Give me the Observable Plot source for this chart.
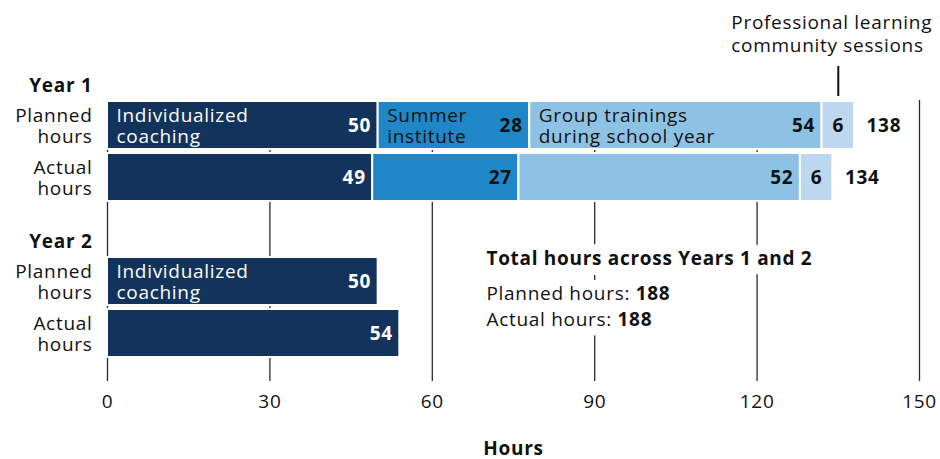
<!DOCTYPE html>
<html><head><meta charset="utf-8">
<script src="https://cdn.jsdelivr.net/npm/d3@7"></script>
<script src="https://cdn.jsdelivr.net/npm/@observablehq/plot@0.6"></script>
<style>body{margin:0;background:#fff;} svg{display:block;}</style>
</head><body><div id="chart"></div>
<script>
const categories = ["Individualized coaching", "Summer institute", "Group trainings during school year", "Professional learning community sessions"];
const categoryLabels = ["Individualized\ncoaching", "Summer\ninstitute", "Group trainings\nduring school year", "Professional learning\ncommunity sessions"];
const colors = ["#12335B", "#1F86C7", "#8DC2E4", "#BCD7EE"];
const rows = ["Y1H", "Y1P", "Y1A", "Y2H", "Y2P", "Y2A"];
const rowLabels = ["Planned\nhours", "Actual\nhours", "Planned\nhours", "Actual\nhours"];
const rowKeys = ["Y1P", "Y1A", "Y2P", "Y2A"];
const yearHeaders = ["Year 1", "Year 2"];
const yearHeaderRows = ["Y1H", "Y2H"];
const year1Planned = [50, 28, 54, 6];
const year1Actual = [49, 27, 52, 6];
const year2Planned = [50];
const year2Actual = [54];
const year1Totals = [138, 134];
const combinedTitle = "Total hours across Years 1 and 2";
const combinedLabels = ["Planned hours:", "Actual hours:"];
const combinedTotals = [188, 188];
const xTicks = [0, 30, 60, 90, 120, 150];

const series = [
  {row: "Y1P", values: year1Planned, labelled: true},
  {row: "Y1A", values: year1Actual, labelled: false},
  {row: "Y2P", values: year2Planned, labelled: true},
  {row: "Y2A", values: year2Actual, labelled: false}
];
const segs = [];
for (const s of series) {
  let acc = 0;
  s.values.forEach((v, i) => {
    segs.push({row: s.row, cat: categories[i], i, value: v, x1: acc, x2: acc + v, labelled: s.labelled});
    acc += v;
  });
}
const totalRows = year1Totals.map((t, k) => ({row: ["Y1P", "Y1A"][k], total: t}));
const plcSeg = segs.filter(d => d.row === "Y1P" && d.i === 3);
const dark = "#111";

// combined-totals block: title + two lines
const block = [
  {text: combinedTitle, row: "Y2P", dy: -22.5, bold: true},
  {text: `${combinedLabels[0]} ${combinedTotals[0]}`, row: "Y2P", dy: 12.5, bold: false},
  {text: `${combinedLabels[1]} ${combinedTotals[1]}`, row: "Y2A", dy: -13.5, bold: false}
];
const blockMarks = (halo) => block.map(b => Plot.text([b], {
  x: () => 70, y: () => b.row, text: d => d.text, textAnchor: "start", dy: b.dy,
  fontWeight: b.bold ? "bold" : "normal", fontSize: 19,
  fill: halo ? "white" : dark,
  ...(halo ? {stroke: "white", strokeWidth: 20, strokeLinejoin: "round"} : {})
}));

const chart = Plot.plot({
  width: 940, height: 459,
  marginTop: 100, marginBottom: 78, marginLeft: 107, marginRight: 21,
  style: {fontFamily: "'Open Sans', sans-serif", fontSize: "19px", color: dark, background: "white", letterSpacing: "0.7px"},
  x: {domain: [0, 150]},
  y: {domain: rows, range: [47.5, 358], paddingInner: 0.0857, paddingOuter: 0, axis: null},
  marks: [
    Plot.ruleX(xTicks, {stroke: "#2a2a2a", strokeWidth: 1.3}),
    ...blockMarks(true),
    Plot.axisX(xTicks, {tickSize: 0, tickPadding: 13, fontSize: 19, label: "Hours", labelAnchor: "center", labelArrow: "none", labelOffset: 73, fill: dark}),
    Plot.barX(segs, {x1: "x1", x2: "x2", y: "row", fill: d => colors[d.i], stroke: "white", strokeWidth: 2}),
    Plot.text(segs.filter(d => d.i < 3), {x: "x2", y: "row", text: d => String(d.value), textAnchor: "end", dx: -7, fill: d => d.i === 0 ? "white" : dark, fontWeight: "bold", fontSize: 19}),
    Plot.text(segs.filter(d => d.i === 3), {x: d => (d.x1 + d.x2) / 2, y: "row", text: d => String(d.value), textAnchor: "middle", fill: dark, fontWeight: "bold", fontSize: 19}),
    Plot.text(segs.filter(d => d.labelled && d.i < 3), {x: "x1", y: "row", text: d => categoryLabels[d.i], textAnchor: "start", dx: 9, fill: d => d.i === 0 ? "white" : dark, fontSize: 19, lineHeight: 1.13}),
    Plot.text(totalRows, {x: "total", y: "row", text: d => String(d.total), textAnchor: "start", dx: 12, fontWeight: "bold", fill: dark, fontSize: 19}),
    Plot.tickX(plcSeg, {x: d => (d.x1 + d.x2) / 2, y: () => "Y1H", insetTop: 17, insetBottom: 1, stroke: dark, strokeWidth: 2}),
    Plot.text(plcSeg, {x: d => (d.x1 + d.x2) / 2, y: () => "Y1H", text: () => categoryLabels[3], textAnchor: "start", dx: -107, dy: -40.5, lineHeight: 1.2, fill: dark, fontSize: 19}),
    Plot.text(yearHeaders, {frameAnchor: "left", y: (d, k) => yearHeaderRows[k], text: d => d, textAnchor: "end", dx: -15, dy: 12, fontWeight: "bold", fill: dark, fontSize: 19}),
    Plot.text(rowLabels, {frameAnchor: "left", y: (d, k) => rowKeys[k], text: d => d, textAnchor: "end", dx: -15, lineHeight: 1.13, fill: dark, fontSize: 19}),
    ...blockMarks(false)
  ]
});

d3.select(chart).selectAll("text").each(function() {
  const el = d3.select(this);
  const t = this.textContent;
  if (t === "Hours") el.attr("font-weight", "bold");
  const m = /^(.*: )(\d+)$/.exec(t);
  if (m && this.childElementCount === 0) {
    el.text(null);
    el.append("tspan").text(m[1]);
    el.append("tspan").attr("font-weight", "bold").text(m[2]);
  }
});
document.getElementById("chart").appendChild(chart);
</script>
</body></html>
